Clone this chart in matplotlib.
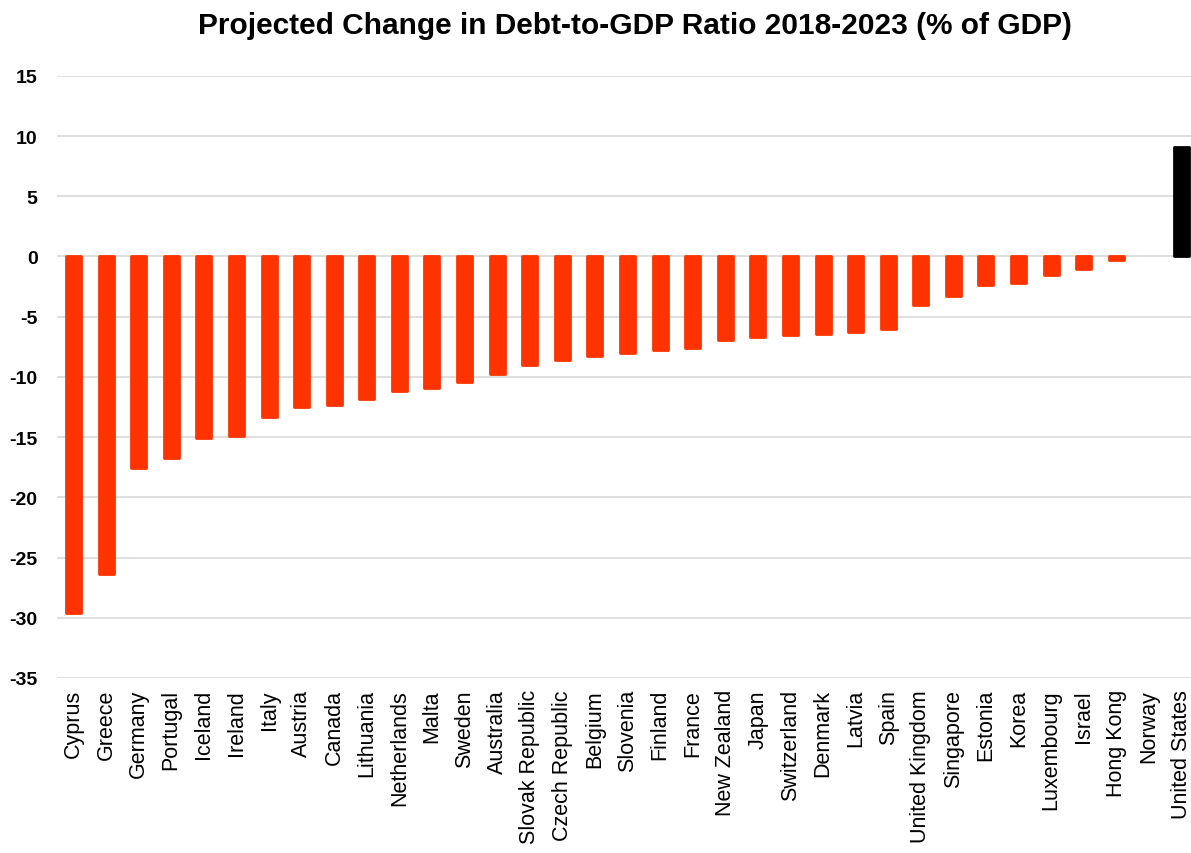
import matplotlib.pyplot as plt

countries = ["Cyprus", "Greece", "Germany", "Portugal", "Iceland", "Ireland", "Italy",
             "Austria", "Canada", "Lithuania", "Netherlands", "Malta", "Sweden",
             "Australia", "Slovak Republic", "Czech Republic", "Belgium", "Slovenia",
             "Finland", "France", "New Zealand", "Japan", "Switzerland", "Denmark",
             "Latvia", "Spain", "United Kingdom", "Singapore", "Estonia", "Korea",
             "Luxembourg", "Israel", "Hong Kong", "Norway", "United States"]
change = [-29.6, -26.4, -17.6, -16.7, -15.1, -14.9, -13.3,
          -12.5, -12.3, -11.8, -11.2, -10.9, -10.4,
          -9.8, -9.0, -8.6, -8.3, -8.0,
          -7.8, -7.6, -6.9, -6.7, -6.5, -6.4,
          -6.3, -6.0, -4.0, -3.3, -2.4, -2.2,
          -1.5, -1.0, -0.3, 0.0, 9.1]
colors = ["black" if c == "United States" else "#FF3300" for c in countries]

plt.rcParams['font.family'] = ['Liberation Sans', 'DejaVu Sans']
plt.rcParams['axes.unicode_minus'] = False

fig = plt.figure(figsize=(11.91, 8.54), dpi=100)
ax = fig.add_axes([0.048, 0.205, 0.955, 0.705])

x = range(len(countries))
widths = [0 if v == 0 else 2 for v in change]  # no outline for empty bars
bars = ax.bar(x, change, width=0.46, color=colors, edgecolor=colors, linewidth=widths, zorder=3)
for b in bars:
    b.set_joinstyle('round')

ax.set_ylim(-35, 15)
ax.set_xlim(-0.5, 34.4)
ax.set_yticks(range(-35, 16, 5))
ax.yaxis.grid(True, color="#d9d9d9", linewidth=1.2, zorder=0)
ax.set_axisbelow(True)
for s in ax.spines.values():
    s.set_visible(False)

ax.set_xticks(list(x))
ax.set_xticklabels(countries, rotation=90, fontsize=15.5)
ax.tick_params(axis='x', length=0, pad=8)
ax.tick_params(axis='y', length=0, pad=14, labelsize=14)
for lab in ax.get_yticklabels():
    lab.set_fontweight('bold')

fig.text(0.533, 1 - 34 / 854, "Projected Change in Debt-to-GDP Ratio 2018-2023 (% of GDP)",
         fontsize=21.5, fontweight='bold', ha='center', va='baseline')

fig.savefig("out.png", dpi=100)
